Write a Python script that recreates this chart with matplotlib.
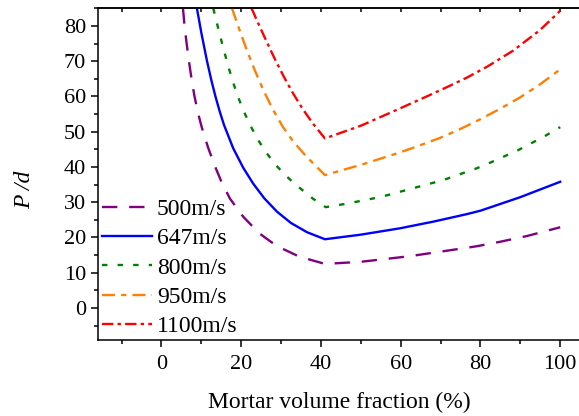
import matplotlib
matplotlib.use("Agg")
import matplotlib.pyplot as plt
from matplotlib.ticker import MultipleLocator

plt.rcParams['font.family'] = ['Liberation Serif', 'DejaVu Serif']

# curves: mortar volume fraction (%) vs P/d
x500 = [5.4, 5.8, 6.3, 6.9, 7.6, 8.3, 9.2, 10.1, 11.7, 13.5, 15.2, 17.2, 20.5, 24.5, 28.9, 34.5, 41,
        50, 62.3, 70.7, 79, 85, 91.6, 100]
y500 = [85, 80, 75.2, 70, 64.6, 60, 55.2, 51.3, 45.5, 40, 35.4, 31, 25.9, 21.2, 17.6, 14.6, 12.5,
        13.1, 14.7, 16.1, 17.5, 18.8, 20.4, 22.9]

x647 = [8.9, 10.0, 11.4, 12.5, 13.5, 14.6, 15.7, 18.0, 20.5, 23.0, 25.8, 29.0, 32.5, 36.5, 41,
        50, 59.8, 68.2, 76.5, 80, 89.9, 100]
y647 = [85, 78.1, 70.2, 64.7, 60.2, 55.8, 51.9, 45.3, 39.8, 35.3, 31.1, 27.3, 24.1, 21.5, 19.5,
        20.8, 22.6, 24.5, 26.6, 27.6, 31.4, 35.8]

x800 = [13, 14, 15.4, 16.8, 18, 19.3, 21, 22.7, 24.5, 26.4, 28.8, 31.4, 34.3, 38, 41.2,
        46.5, 55, 63.2, 70.7, 79, 82.4, 89.5, 96.2, 100]
y800 = [85, 80.4, 74.2, 68.4, 63.9, 59.6, 54.9, 50.9, 47.2, 43.9, 40.4, 37.3, 34.4, 31.0, 28.6,
        29.6, 31.5, 34.0, 36.3, 39.6, 41.2, 44.8, 48.8, 51.3]

x950 = [17.7, 19.5, 21.4, 23.5, 25.6, 28, 30.5, 33, 36.4, 41,
        50.6, 60, 64, 70, 75, 79.9, 84.9, 89.9, 94.9, 100]
y950 = [85, 79.1, 73.2, 67.2, 61.7, 56.2, 51.3, 47.3, 42.9, 37.7,
        40.8, 44.2, 45.8, 48.3, 50.8, 53.5, 56.5, 59.7, 63.4, 67.7]

x1100 = [22.6, 24.5, 26.4, 28.5, 30.6, 33, 35.4, 38, 41,
         50, 59.8, 66.9, 71.5, 76.5, 81.6, 88.2, 94.9, 100]
y1100 = [85, 80.2, 75.5, 70.5, 65.8, 60.9, 56.5, 52.3, 48.1,
         51.7, 56.6, 60.2, 62.6, 65.3, 68.4, 73.0, 78.8, 84.3]

labels = ['500m/s', '647m/s', '800m/s', '950m/s', '1100m/s']

fig = plt.figure(figsize=(5.79, 4.16), dpi=100)
ax = fig.add_axes([0.1693, 0.1827, 1.002 - 0.1693, 0.9808 - 0.1827])

lw = 1.7
ax.plot(x500, y500, color='#800080', lw=lw, dashes=(6.5, 5), label=labels[0])
ax.plot(x647, y647, color='#0000ff', lw=lw, label=labels[1])
ax.plot(x800, y800, color='#008000', lw=lw, dashes=(2.3, 4.3), label=labels[2])
ax.plot(x950, y950, color='#ff8000', lw=lw, dashes=(5.5, 2.6, 2.2, 2.6), label=labels[3])
ax.plot(x1100, y1100, color='#ff0000', lw=lw, dashes=(4.8, 1.8, 1.4, 1.8), label=labels[4])

ax.set_xlim(-15.9, 105)
ax.set_ylim(-9.08, 85.1)
ax.xaxis.set_major_locator(MultipleLocator(20))
ax.xaxis.set_minor_locator(MultipleLocator(10))
ax.yaxis.set_major_locator(MultipleLocator(10))
ax.yaxis.set_minor_locator(MultipleLocator(5))
ax.tick_params(which='major', direction='out', length=5, width=1.1, labelsize=16)
ax.tick_params(which='minor', direction='out', length=3, width=1.1)
ax.tick_params(axis='x', which='major', pad=6)
ax.spines['right'].set_visible(False)
for s in ['left', 'bottom', 'top']:
    ax.spines[s].set_linewidth(1.1)

top = ax.secondary_xaxis('top')
top.xaxis.set_major_locator(MultipleLocator(10))
top.tick_params(direction='in', length=3, width=1.1, labeltop=False)
top.spines['top'].set_linewidth(1.1)

ax.set_xlabel('Mortar volume fraction (%)', fontsize=17, labelpad=12.5)
ax.set_ylabel('P /d', fontsize=17, style='italic')
ax.yaxis.set_label_coords(-0.131, 0.452)

ax.legend(loc='upper left', bbox_to_anchor=(0.176, 0.523), bbox_transform=fig.transFigure,
          frameon=False, fontsize=17, handlelength=2.12, handletextpad=0.21,
          labelspacing=0.33, borderpad=0, borderaxespad=0)

fig.savefig('out.png', dpi=100)
